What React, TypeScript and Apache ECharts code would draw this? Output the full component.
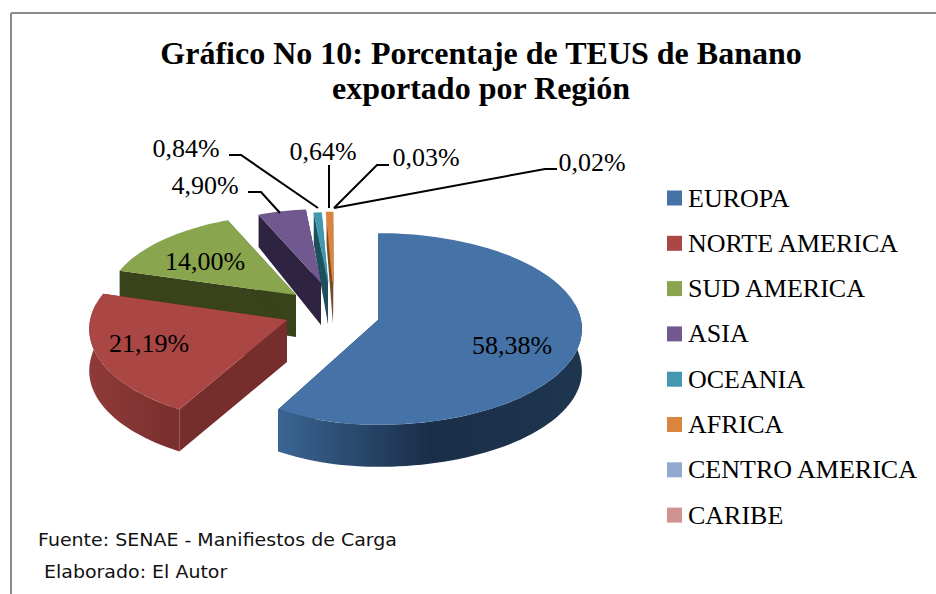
import React, { useEffect, useRef } from "react";
import * as echarts from "echarts";

const regions = ["EUROPA", "NORTE AMERICA", "SUD AMERICA", "ASIA", "OCEANIA", "AFRICA", "CENTRO AMERICA", "CARIBE"];
const shares = [58.38, 21.19, 14.0, 4.9, 0.84, 0.64, 0.03, 0.02];
const shareLabels = ["58,38%", "21,19%", "14,00%", "4,90%", "0,84%", "0,64%", "0,03%", "0,02%"];
const topColors = ["#4572A7", "#AA4643", "#89A54E", "#71588F", "#4198AF", "#DB843D", "#93A9CF", "#D19392"];
const edgeColors = ["#1B2F4A", "#762E2C", "#38431B", "#2E2340", "#1D4F5C", "#7A4A20", "#4A5C7C", "#7C5050"];
const wallFrom = ["#3A6593", "#8F3A38", "#4A5A24", "#3A2C52", "#2A6A7C", "#94562A", "#5E7299", "#96605F"];
const wallTo = ["#1A2E48", "#782F2D", "#38431B", "#2E2340", "#1D4F5C", "#7A4A20", "#4A5C7C", "#7C5050"];

// Projection of the exploded 3D pie: apex of each wedge and its radius scale.
const apexX = [378, 287, 296, 321, 328, 333, 334, 334];
const apexY = [320, 320, 295, 283, 282, 282, 282, 282];
const radiusScale = [1, 1, 0.93, 0.85, 0.8, 0.8, 0.8, 0.8];
const leftScale = [0.9, 0.97, 1, 1, 1, 1, 1, 1];
const sliverStroke = [0, 0, 0, 0, 0.5, 1.5, 0, 0];
const RX = 203;
const RY = 95;
const PERSPECTIVE = 0.094;
const DEPTH = 42;

// Label anchors and leader lines.
const labelX = [512, 149, 205, 205, 186, 323, 426, 592];
const labelY = [345, 343, 261, 185, 148, 151, 157, 162];
const leaders: (number[][] | null)[] = [
  null,
  null,
  null,
  [[248, 192], [261, 192], [280, 213]],
  [[229, 155], [241, 155], [318, 208]],
  [[329, 165], [329, 208]],
  [[389, 165], [377, 165], [334, 208]],
  [[557, 169], [545, 169], [334, 208]],
];
const drawOrder = [7, 6, 5, 4, 3, 2, 1, 0];

function App() {
  const ref = useRef<HTMLDivElement>(null);
  useEffect(() => {
    document.body.style.margin = "0";
    const chart = echarts.init(ref.current!, null, { renderer: "svg" });
    const total = shares.reduce((a, b) => a + b, 0);
    const cumulative = (i: number) => shares.slice(0, i).reduce((a, b) => a + b, 0);

    const project = (i: number, deg: number, drop = 0) => {
      const a = (deg * Math.PI) / 180;
      const s = Math.sin(a);
      const c = Math.cos(a);
      const w = 1 + PERSPECTIVE * c;
      const side = s < 0 ? leftScale[i] : 1;
      return [
        apexX[i] + (radiusScale[i] * side * RX * s) / w,
        apexY[i] - (radiusScale[i] * RY * c) / w + drop * (1 - 0.25 * Math.max(c, 0)),
      ];
    };
    const arc = (i: number, from: number, to: number, drop = 0) => {
      const pts: number[][] = [];
      const n = Math.max(2, Math.ceil((to - from) / 2));
      for (let k = 0; k <= n; k++) pts.push(project(i, from + ((to - from) * k) / n, drop));
      return pts;
    };

    const renderSlice = (i: number) => (_p: any, api: any) => {
      const sweep = (api.value(0) / total) * 360;
      const start = (cumulative(i) / total) * 360;
      const end = start + sweep;
      const apex = [apexX[i], apexY[i]];
      const apexLow = [apexX[i], apexY[i] + DEPTH];
      const children: any[] = [];
      const face = (pts: number[][], fill: any, z2 = 0, strokeW = 0) => ({
        type: "polygon",
        silent: true,
        z2,
        shape: { points: pts },
        style: { fill, stroke: strokeW ? fill : null, lineWidth: strokeW },
      });
      // radial walls
      children.push(
        face([apex, project(i, start), project(i, start, DEPTH), apexLow], edgeColors[i]),
        face([apex, project(i, end), project(i, end, DEPTH), apexLow], edgeColors[i])
      );
      // outer wall (near half of the rim only)
      const wa = Math.max(start, 80);
      const wb = Math.min(end, 280);
      if (wb > wa) {
        const upper = arc(i, wa, wb);
        const lower = arc(i, wa, wb, DEPTH).reverse();
        children.push(
          face(
            upper.concat(lower),
            new echarts.graphic.LinearGradient(0, 0, 1, 0, [
              { offset: 0, color: wallFrom[i] },
              { offset: i === 0 ? 0.5 : 1, color: wallTo[i] },
              { offset: 1, color: i === 0 ? "#1E3650" : wallTo[i] },
            ]),
            1
          )
        );
      }
      // top surface
      children.push(face([apex].concat(arc(i, start, end)), topColors[i], 2, sliverStroke[i]));
      return { type: "group", children };
    };

    const renderLabel = (i: number) => () => {
      const children: any[] = [
        {
          type: "text",
          silent: true,
          z2: 10,
          style: {
            x: labelX[i],
            y: labelY[i],
            text: shareLabels[i],
            fill: "#000",
            font: '26px "Liberation Serif"',
            align: "center",
            verticalAlign: "middle",
          },
        },
      ];
      const line = leaders[i];
      if (line) {
        children.push({
          type: "polyline",
          silent: true,
          z2: 9,
          shape: { points: line },
          style: { stroke: "#000", lineWidth: 2, fill: null },
        });
      }
      return { type: "group", children };
    };

    const sliceSeries = drawOrder.map((i, order) => ({
      type: "custom",
      name: regions[i],
      coordinateSystem: "none",
      z: 2 + order,
      silent: true,
      itemStyle: { color: topColors[i] },
      data: [[shares[i]]],
      renderItem: renderSlice(i),
    }));
    const labelSeries = regions.map((_, i) => ({
      type: "custom",
      name: "label-" + i,
      coordinateSystem: "none",
      z: 20,
      silent: true,
      data: [[shares[i]]],
      renderItem: renderLabel(i),
    }));

    chart.setOption({
      animation: false,
      backgroundColor: "#fff",
      title: {
        text: "Gráfico No 10: Porcentaje de TEUS de Banano\nexportado por Región",
        left: 476,
        top: 30,
        textAlign: "center",
        textStyle: {
          fontFamily: "Liberation Serif",
          fontSize: 32,
          fontWeight: "bold",
          color: "#000",
          lineHeight: 35,
        },
      },
      legend: {
        orient: "vertical",
        left: 662,
        top: 179,
        data: regions,
        icon: "rect",
        itemWidth: 15,
        itemHeight: 15,
        itemGap: 17.3,
        selectedMode: false,
        textStyle: {
          fontFamily: "Liberation Serif",
          fontSize: 26,
          color: "#000",
          padding: [0, 0, 0, 1],
          lineHeight: 28,
        },
      },
      graphic: [
        { type: "line", shape: { x1: 11, y1: 13, x2: 936, y2: 13 }, style: { stroke: "#8C8C8C", lineWidth: 2 } },
        { type: "line", shape: { x1: 11, y1: 13, x2: 11, y2: 594 }, style: { stroke: "#8C8C8C", lineWidth: 2 } },
        {
          type: "text",
          x: 38,
          y: 540,
          scaleX: 1.117,
          style: { x: 0, y: 0, text: "Fuente: SENAE - Manifiestos de Carga", fill: "#111", font: '17px "DejaVu Sans"', verticalAlign: "middle" },
        },
        {
          type: "text",
          x: 44,
          y: 572,
          scaleX: 1.117,
          style: { x: 0, y: 0, text: "Elaborado: El Autor", fill: "#111", font: '17px "DejaVu Sans"', verticalAlign: "middle" },
        },
      ],
      series: [...sliceSeries, ...labelSeries],
    });
    return () => chart.dispose();
  }, []);
  return <div ref={ref} style={{ width: 936, height: 594 }} />;
}

export default App;
